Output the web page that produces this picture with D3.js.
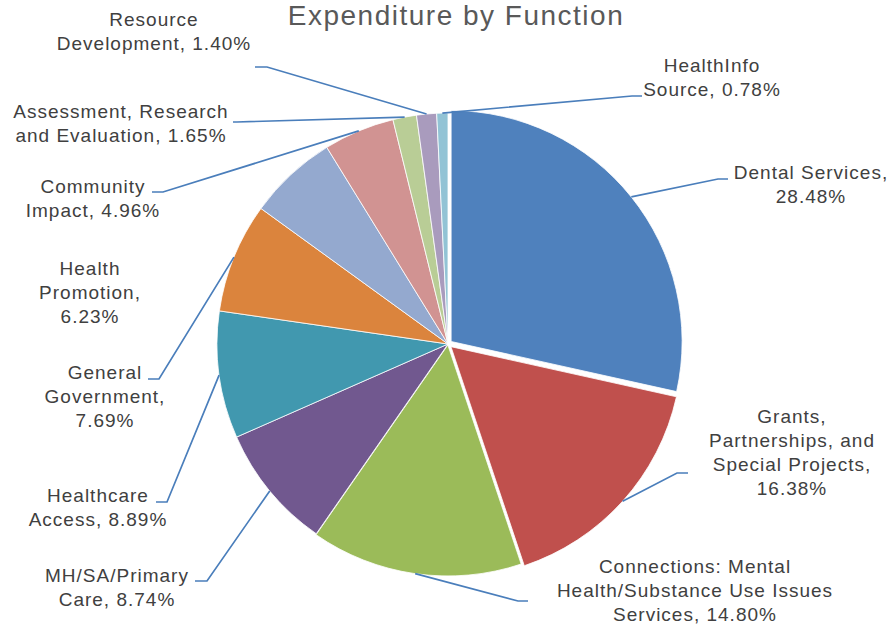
<!DOCTYPE html>
<html>
<head>
<meta charset="utf-8">
<script src="https://cdn.jsdelivr.net/npm/d3@7"></script>
<style>
  html, body { margin: 0; padding: 0; background: #fff; }
  svg { display: block; font-family: "Liberation Sans", Arial, sans-serif; }
</style>
</head>
<body>
<div id="chart"></div>
<script>
// chart values, clockwise from 12 o'clock
const names = ["Dental Services", "Grants, Partnerships, and Special Projects",
  "Connections: Mental Health/Substance Use Issues Services", "MH/SA/Primary Care",
  "Healthcare Access", "General Government", "Health Promotion", "Community Impact",
  "Assessment, Research and Evaluation", "Resource Development", "HealthInfo Source"];
const values = [28.48, 16.38, 14.80, 8.74, 8.89, 7.69, 6.23, 4.96, 1.65, 1.40, 0.78];

// how each label is wrapped ({v} = the value)
const labelLines = [
  ["Dental Services,", "{v}"],
  ["Grants,", "Partnerships, and", "Special Projects,", "{v}"],
  ["Connections: Mental", "Health/Substance Use Issues", "Services, {v}"],
  ["MH/SA/Primary", "Care, {v}"],
  ["Healthcare", "Access, {v}"],
  ["General", "Government,", "{v}"],
  ["Health", "Promotion,", "{v}"],
  ["Community", "Impact, {v}"],
  ["Assessment, Research", "and Evaluation, {v}"],
  ["Resource", "Development, {v}"],
  ["HealthInfo", "Source, {v}"]
];

const colors = ["#4f81bd", "#c0504d", "#9bbb59", "#71588f", "#4198af", "#db843d",
  "#94a9cf", "#d19392", "#b9cd96", "#a99bbd", "#92c3d5"];
const pull = [4, 4, 1, 0, 0, 0, 0, 0, 0, 0, 0];

// label placement: [centre x, first baseline, elbow x, elbow y, end x]
const labelPos = [
  [811, 179, 718, 179, 728],
  [792, 423, 677, 473, 688],
  [695, 573, 518, 601, 528],
  [117, 582, 207, 581, 195],
  [98, 502, 167, 502, 156],
  [105, 379, 159, 379, 148],
  [90, 275, null, null, null],
  [93, 193, 163, 192, 152],
  [121, 118, 237, 122, 233],
  [154, 26, 267, 67, 255],
  [712, 72, 632, 96, 642]
];

const width = 893, height = 628;
const cx = 448, cy = 344, radius = 231;

const svg = d3.select("#chart").append("svg")
    .attr("width", width)
    .attr("height", height);

svg.append("text")
    .attr("x", 456)
    .attr("y", 25)
    .attr("text-anchor", "middle")
    .style("font-size", "28px")
    .style("letter-spacing", "1.5px")
    .attr("fill", "#595959")
    .text("Expenditure  by  Function");

const pie = d3.pie().sort(null).value(d => d)(values);
const arc = d3.arc().innerRadius(0).outerRadius(radius);

const mid = d => (d.startAngle + d.endAngle) / 2;
const offset = (d, i) => [Math.sin(mid(d)) * pull[i], -Math.cos(mid(d)) * pull[i]];

const g = svg.append("g").attr("transform", `translate(${cx},${cy})`);

g.selectAll("path.slice")
  .data(pie)
  .join("path")
    .attr("class", "slice")
    .attr("d", arc)
    .attr("transform", (d, i) => `translate(${offset(d, i)})`)
    .attr("fill", (d, i) => colors[i])
    .attr("stroke", "#fff")
    .attr("stroke-width", 0.8);

// leader lines
const leaders = svg.append("g");
pie.forEach((d, i) => {
  const p = labelPos[i];
  if (p[2] == null) return;
  const o = offset(d, i);
  const sx = cx + o[0] + Math.sin(mid(d)) * radius;
  const sy = cy + o[1] - Math.cos(mid(d)) * radius;
  leaders.append("path")
      .attr("d", d3.line()([[sx, sy], [p[2], p[3]], [p[4], p[3]]]))
      .attr("fill", "none")
      .attr("stroke", "#4a7ebb")
      .attr("stroke-width", 1.7);
});

// data labels
const fmt = v => v.toFixed(2) + "%";
const labels = svg.append("g")
    .style("font-size", "19px")
    .style("letter-spacing", "1px")
    .attr("fill", "#404040")
    .attr("text-anchor", "middle");

labelLines.forEach((lines, i) => {
  const p = labelPos[i];
  const t = labels.append("text").attr("x", p[0]).attr("y", p[1]);
  lines.forEach((ln, k) => {
    t.append("tspan")
        .attr("x", p[0])
        .attr("dy", k === 0 ? 0 : 24)
        .text(ln.replace("{v}", fmt(values[i])));
  });
});
</script>
</body>
</html>
